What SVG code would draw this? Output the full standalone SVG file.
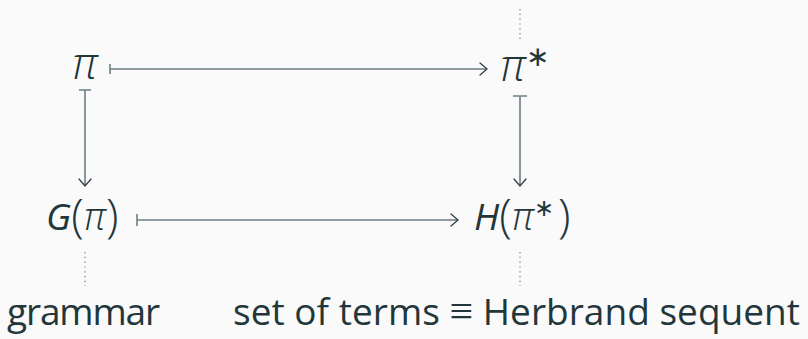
<svg xmlns="http://www.w3.org/2000/svg" width="808" height="339" viewBox="0 0 808 339">
<defs>
<style>
.bg{fill:#fafafa}
.ln{stroke:#6e7f82;stroke-width:1.6;fill:none}
.hd{stroke:#2f4146;stroke-width:1.3;fill:none;stroke-linecap:round}
.dot{stroke:#6e7f82;stroke-width:1.2;stroke-dasharray:1.2 3.6;fill:none}
.math{font-family:"Open Sans","Noto Sans",sans-serif;font-style:italic;font-weight:300;fill:#23373b}
.sans{font-family:"Open Sans","Noto Sans",sans-serif;font-weight:400;fill:#23373b}
.thin{font-weight:300}
.star{font-family:"Liberation Serif",serif;font-style:normal;font-weight:400}
</style>
</defs>
<rect class="bg" x="0" y="0" width="808" height="339"/>
<g id="connectors">
<path class="ln" d="M110 64V74M110 69H486"/>
<path class="hd" d="M480 63L487 69L480 75"/>
<path class="ln" d="M137 214V226M137 220H457"/>
<path class="hd" d="M451 214L458 220L451 226"/>
<path class="ln" d="M79 90H91M85 90V185"/>
<path class="hd" d="M79 179L85 186L91 179"/>
<path class="ln" d="M513 96H527M520 96V185"/>
<path class="hd" d="M514 179L520 186L526 179"/>
<path class="dot" d="M520 9V42"/>
<path class="dot" d="M85 252V286"/>
<path class="dot" d="M520 252V286"/>
</g>
<g id="pi">
<text class="math" x="72" y="79" font-size="44">π</text>
</g>
<g id="pistar">
<text class="math" x="500" y="81" font-size="44">π<tspan class="star" font-size="28" dy="-15">∗</tspan></text>
</g>
<g id="Gpi">
<text class="sans thin" x="46" y="230" font-size="37"><tspan font-style="italic" font-weight="400">G</tspan><tspan font-size="46" dy="2">(</tspan><tspan class="math" font-size="38" dy="-2">π</tspan><tspan font-size="46" dy="2">)</tspan></text>
</g>
<g id="Hpi">
<text class="sans thin" x="474" y="230" font-size="37"><tspan font-style="italic" font-weight="400">H</tspan><tspan font-size="46" dy="2">(</tspan><tspan class="math" font-size="38" dy="-2">π</tspan><tspan class="star" font-size="24" dy="-14">∗</tspan><tspan font-size="46" dx="4" dy="16">)</tspan></text>
</g>
<g id="grammar">
<text class="sans" x="7" y="325" font-size="37" textLength="153">grammar</text>
</g>
<g id="herbrand">
<text class="sans" x="233" y="325" font-size="37" textLength="567">set of terms <tspan font-family="DejaVu Sans" font-weight="200" font-size="42">≡</tspan> Herbrand sequent</text>
</g>
</svg>
